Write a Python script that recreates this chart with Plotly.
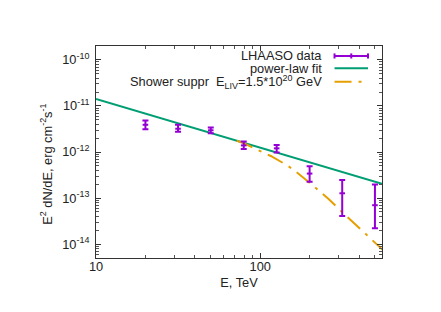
import plotly.graph_objects as go

# Data
energy = [20, 31.6, 50, 79.4, 126, 200, 316, 500]
flux = [3.9e-12, 3.2e-12, 2.96e-12, 1.39e-12, 1.2e-12, 3.4e-13, 1.27e-13, 7.0e-14]
flux_hi = [4.8e-12, 3.9e-12, 3.4e-12, 1.68e-12, 1.42e-12, 4.9e-13, 2.48e-13, 1.96e-13]
flux_lo = [3.1e-12, 2.74e-12, 2.55e-12, 1.16e-12, 9.8e-13, 2.25e-13, 4.07e-14, 2.2e-14]

fit_e = [10, 552]
fit_flux = [1.41e-11, 2.04e-13]

liv_e = [72, 79, 93, 104, 116, 143, 159, 206, 260, 328, 415, 473, 557]
liv_flux = [1.76e-12, 1.57e-12, 1.18e-12, 1.0e-12, 8.2e-13, 5.36e-13, 4.17e-13,
            1.96e-13, 9.7e-14, 4.35e-14, 2.04e-14, 1.3e-14, 7.5e-15]

x_tickvals = [10, 100]
x_ticktext = ["10", "100"]
y_tickvals = [1e-10, 1e-11, 1e-12, 1e-13, 1e-14]
y_ticktext = ["10<sup>-10</sup>", "10<sup>-11</sup>", "10<sup>-12</sup>",
              "10<sup>-13</sup>", "10<sup>-14</sup>"]

legend_labels = ["LHAASO data", "power-law fit",
                 "Shower suppr  E<sub>LIV</sub>=1.5*10<sup>20</sup> GeV"]
x_title = "E, TeV"
y_title = "E<sup>2</sup> dN/dE, erg cm<sup>-2</sup>s<sup>-1</sup>"

PURPLE = "#9400D3"
GREEN = "#009E73"
ORANGE = "#E69F00"
DASH = "17px,7px,3px,7px"
FS = 12.8
TXT = "#222"

err_plus = [h - f for h, f in zip(flux_hi, flux)]
err_minus = [f - l for f, l in zip(flux, flux_lo)]

fig = go.Figure()
fig.add_trace(go.Scatter(x=fit_e, y=fit_flux, mode="lines",
                         line=dict(color=GREEN, width=2), showlegend=False))
fig.add_trace(go.Scatter(x=liv_e, y=liv_flux, mode="lines",
                         line=dict(color=ORANGE, width=2, dash=DASH), showlegend=False))
fig.add_trace(go.Scatter(x=energy, y=flux, mode="markers",
                         marker=dict(color=PURPLE, size=4, symbol="line-ew-open",
                                     line=dict(color=PURPLE, width=2)),
                         error_y=dict(type="data", symmetric=False, array=err_plus,
                                      arrayminus=err_minus, color=PURPLE,
                                      thickness=2, width=3),
                         showlegend=False))

# manual gnuplot-style key (text right, sample left)
rows_y = [0.953, 0.895, 0.831]
x_text = 0.797
x0, x1 = 0.834, 0.951
styles = [dict(color=PURPLE, width=2), dict(color=GREEN, width=2),
          dict(color=ORANGE, width=2, dash=DASH)]
for lab, yy, st in zip(legend_labels, rows_y, styles):
    fig.add_annotation(x=x_text, y=yy, xref="paper", yref="paper", text=lab,
                       showarrow=False, xanchor="right", yanchor="middle",
                       font=dict(size=FS, color=TXT))
    fig.add_shape(type="line", xref="paper", yref="paper", x0=x0, x1=x1,
                  y0=yy, y1=yy, line=st)
# caps for LHAASO sample
for xc in [x0, (x0 + x1) / 2, x1]:
    fig.add_shape(type="line", xref="paper", yref="paper", x0=xc, x1=xc,
                  y0=rows_y[0] - 0.012, y1=rows_y[0] + 0.012,
                  line=dict(color=PURPLE, width=2))

# y axis title placed like gnuplot's
fig.add_annotation(x=0, y=0.44, xref="paper", yref="paper", text=y_title,
                   textangle=-90, showarrow=False, xanchor="center", yanchor="middle",
                   xshift=-50, font=dict(size=FS, color=TXT))

axis_common = dict(showline=True, linecolor="#333", linewidth=1, mirror="allticks",
                   ticks="inside", ticklen=5, tickcolor="#333", showgrid=False,
                   zeroline=False, tickfont=dict(size=FS, color=TXT))

fig.update_xaxes(type="log", range=[1, 2.742], tickvals=x_tickvals, ticktext=x_ticktext,
                 minor=dict(ticks="inside", ticklen=3, tickcolor="#555",
                            tickvals=[20, 30, 40, 50, 60, 70, 80, 90, 200, 300, 400, 500]),
                 ticklabelstandoff=-3,
                 title=dict(text=x_title, font=dict(size=FS, color=TXT), standoff=4),
                 **axis_common)
fig.update_yaxes(type="log", range=[-14.301, -9.699], tickvals=y_tickvals,
                 ticktext=y_ticktext, ticklabelstandoff=3,
                 minor=dict(ticks="inside", ticklen=3, tickcolor="#555", dtick="D1"),
                 **axis_common)

fig.update_layout(width=441, height=312, margin=dict(l=88, r=67, t=38, b=62),
                  paper_bgcolor="white", plot_bgcolor="white",
                  font=dict(family="Liberation Sans, Arial, sans-serif", size=FS))

fig.write_html("out.html")
